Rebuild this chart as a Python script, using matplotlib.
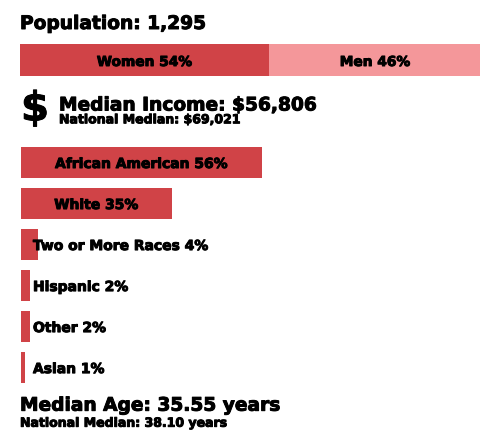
import matplotlib
matplotlib.use("Agg")
import matplotlib.pyplot as plt
import matplotlib.patheffects as pe
from matplotlib.transforms import offset_copy

# ---- data ----
population = "1,295"
gender_labels = ["Women", "Men"]
gender_values = [54, 46]
median_income = "$56,806"
national_income = "$69,021"
race_labels = ["African American", "White", "Two or More Races", "Hispanic", "Other", "Asian"]
race_values = [56, 35, 4, 2, 2, 1]
median_age = "35.55"
national_age = "38.10"

RED = "#d04347"
PINK = "#f4979a"
W, H = 481, 432
plt.rcParams['font.family'] = ['DejaVu Sans']

fig = plt.figure(figsize=(W / 100, H / 100), dpi=100)

heavy = [pe.withStroke(linewidth=0.7, foreground='black')]


def fx(px):
    return px / W


def fy(py):
    return 1 - py / H


def ftext(x, y, s, size, **kw):
    fig.text(fx(x), fy(y), s, fontsize=size, fontweight='bold', color='black',
             va='baseline', ha='left', path_effects=heavy, **kw)


# Titles
ftext(20, 29, f"Population: {population}", 13.4)
ftext(21, 120.5, "$", 29)
ftext(59, 110.5, f"Median Income: {median_income}", 13.4)
ftext(59, 123.3, f"National Median: {national_income}", 9.0)
ftext(20, 410.7, f"Median Age: {median_age} years", 13.4)
ftext(20, 426.7, f"National Median: {national_age} years", 9.0)

# Gender bar
axg = fig.add_axes([fx(20), fy(76), (W - 20) / W, 32 / H])
left = 0
gcolors = [RED, PINK]
tr_g = offset_copy(axg.transData, fig=fig, x=0, y=-6, units='dots')
for lab, val, c in zip(gender_labels, gender_values, gcolors):
    axg.barh(0, val, left=left, height=1, color=c, edgecolor='none')
    axg.text(left + val / 2, 0, f"{lab} {val}%", ha='center', va='baseline',
             fontsize=9.9, fontweight='bold', transform=tr_g, path_effects=heavy)
    left += val
axg.set_xlim(0, 100)
axg.set_ylim(-0.5, 0.5)
axg.axis('off')

# Race bars
px_per_pct = 4.3
ax = fig.add_axes([fx(21), fy(388), (W - 21) / W, 246 / H])
ypos = list(range(len(race_labels)))
ax.barh(ypos, race_values, height=0.756, color=RED, edgecolor='none')
ax.set_xlim(0, (W - 21) / px_per_pct)
ax.set_ylim(5.51, -0.488)
ax.axis('off')
tr_r = offset_copy(ax.transData, fig=fig, x=0, y=-6, units='dots')
for i, (lab, val) in enumerate(zip(race_labels, race_values)):
    s = f"{lab} {val}%"
    if val >= 10:
        ax.text(val / 2, i, s, ha='center', va='baseline', fontsize=10.0,
                fontweight='bold', transform=tr_r, path_effects=heavy)
    else:
        ax.text(12 / px_per_pct, i, s, ha='left', va='baseline', fontsize=10.0,
                fontweight='bold', transform=tr_r, path_effects=heavy)

fig.savefig("out.png", dpi=100)
